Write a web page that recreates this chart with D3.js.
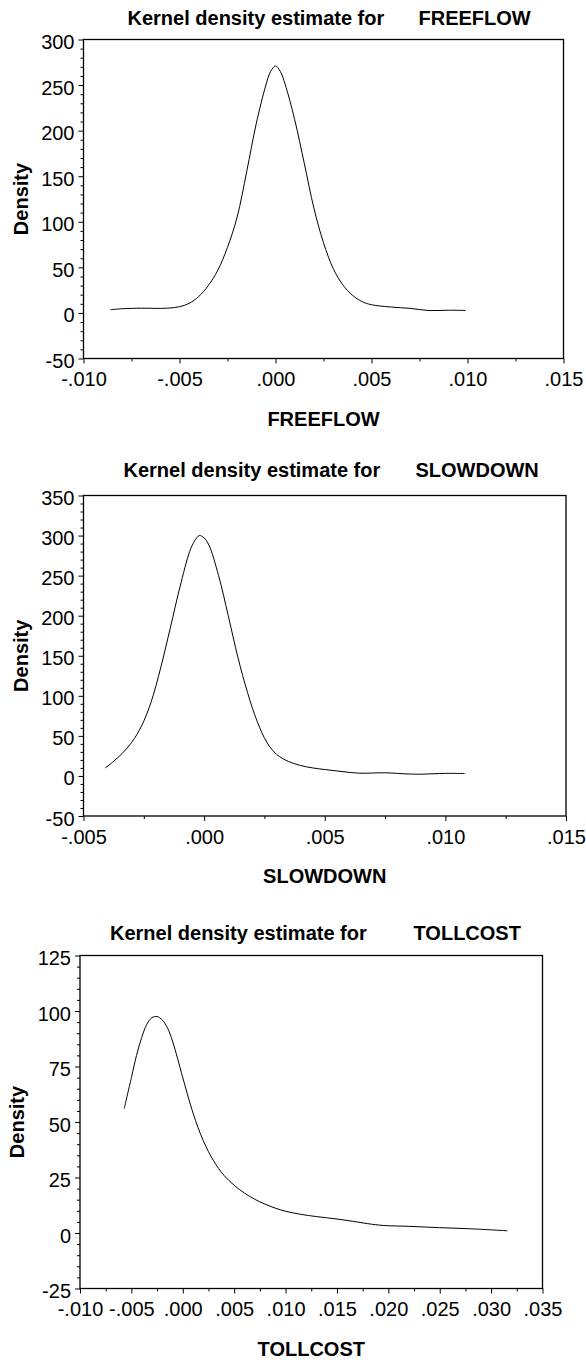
<!DOCTYPE html>
<html>
<head>
<meta charset="utf-8">
<script src="https://cdn.jsdelivr.net/npm/d3@7"></script>
<style>
  html, body { margin: 0; padding: 0; background: #fff; }
  svg { display: block; }
  text { font-family: "Liberation Sans", Arial, sans-serif; fill: #000; }
</style>
</head>
<body>
<svg id="chart" width="586" height="1360"></svg>
<script>
// ---------------- DATA ----------------
const titlePrefix = "Kernel density estimate for";
const variableNames = ["FREEFLOW", "SLOWDOWN", "TOLLCOST"];
const yAxisLabel = "Density";

// FREEFLOW kernel density
const freeflowX = [-0.0086, -0.0080, -0.0070, -0.0060, -0.0055, -0.0050, -0.0045, -0.0040, -0.0035, -0.0030,
                   -0.0025, -0.0020, -0.0015, -0.0010, -0.0005, -0.00025, 0.0000, 0.00025, 0.0005, 0.0010,
                   0.0015, 0.0020, 0.0025, 0.0030, 0.0035, 0.0040, 0.0045, 0.0050, 0.0060, 0.0070,
                   0.0080, 0.0090, 0.0099];
const freeflowY = [3.5, 4.6, 5.2, 5.0, 5.4, 6.8, 10.5, 18, 30, 47,
                   72, 105, 155, 208, 250, 265, 271, 265, 251, 212,
                   164, 115, 77, 49, 31, 19.5, 12.5, 9, 6.5, 5,
                   2.6, 3, 2.7];

// SLOWDOWN kernel density
const slowdownX = [-0.0041, -0.0038, -0.0034, -0.0030, -0.0026, -0.0022, -0.0018, -0.0014, -0.0010, -0.0006,
                   -0.0004, -0.0002, 0.0000, 0.0002, 0.0006, 0.0010, 0.0014, 0.0018, 0.0022, 0.0026,
                   0.0030, 0.0035, 0.0040, 0.0045, 0.0050, 0.0055, 0.0060, 0.0065, 0.0075, 0.0085,
                   0.0090, 0.0100, 0.0108];
const slowdownY = [10, 17, 28, 42, 62, 92, 135, 185, 236, 280,
                   293, 300, 297, 288, 250, 200, 148, 104, 68, 42,
                   27, 18, 13, 10, 8, 6.2, 4.5, 3.4, 3.9, 2.4,
                   2.2, 3.2, 3.0];

// TOLLCOST kernel density
const tollcostX = [-0.0057, -0.0050, -0.0045, -0.0040, -0.0035, -0.0030, -0.0025, -0.0020, -0.0015, -0.0010,
                   -0.0005, 0.0000, 0.0010, 0.0020, 0.0030, 0.0040, 0.0050, 0.0060, 0.0070, 0.0080,
                   0.0090, 0.0100, 0.0115, 0.0130, 0.0150, 0.0165, 0.0180, 0.0195, 0.0220, 0.0250,
                   0.0280, 0.0316];
const tollcostY = [56, 70, 80, 88, 94, 97, 97.5, 96, 92.5, 86.5,
                   78.5, 70, 54, 41.5, 32.5, 26, 21.5, 18, 15.2, 13,
                   11.2, 9.8, 8.4, 7.4, 6.3, 5.3, 4.2, 3.4, 3.0, 2.4,
                   1.9, 1.0];

// Tick values
const freeflowXTicks = [-0.010, -0.005, 0.000, 0.005, 0.010, 0.015];
const freeflowYTicks = [-50, 0, 50, 100, 150, 200, 250, 300];
const slowdownXTicks = [-0.005, 0.000, 0.005, 0.010, 0.015];
const slowdownYTicks = [-50, 0, 50, 100, 150, 200, 250, 300, 350];
const tollcostXTicks = [-0.010, -0.005, 0.000, 0.005, 0.010, 0.015, 0.020, 0.025, 0.030, 0.035];
const tollcostYTicks = [-25, 0, 25, 50, 75, 100, 125];

// ---------------- LAYOUT ----------------
const panels = [
  { name: variableNames[0], xs: freeflowX, ys: freeflowY, xt: freeflowXTicks, yt: freeflowYTicks,
    left: 83.5, right: 563.5, top: 39.5, bottom: 358.5, titleX: 127.5, nameX: 418.5, titleY: 24.5 },
  { name: variableNames[1], xs: slowdownX, ys: slowdownY, xt: slowdownXTicks, yt: slowdownYTicks,
    left: 83.5, right: 566, top: 495.5, bottom: 816, titleX: 123.5, nameX: 415.5, titleY: 477 },
  { name: variableNames[2], xs: tollcostX, ys: tollcostY, xt: tollcostXTicks, yt: tollcostYTicks,
    left: 80, right: 542.5, top: 955.5, bottom: 1288.5, titleX: 110, nameX: 413.5, titleY: 940 }
];

const svg = d3.select("#chart");
const fmtX = v => {
  const s = (Math.abs(v) < 1e-12 ? 0 : v).toFixed(3);
  return s.replace(/^(-?)0\./, "$1.");
};
const fmtY = v => String(v);

panels.forEach(p => {
  const x = d3.scaleLinear().domain([p.xt[0], p.xt[p.xt.length - 1]]).range([p.left, p.right]);
  const y = d3.scaleLinear().domain([p.yt[0], p.yt[p.yt.length - 1]]).range([p.bottom, p.top]);

  // minor ticks
  const xStep = p.xt[1] - p.xt[0];
  const xMinor = d3.range(p.xt.length - 1).map(i => p.xt[i] + xStep / 2);
  const yStep = p.yt[1] - p.yt[0];
  const yMinor = [];
  for (let i = 0; i < p.yt.length - 1; i++) for (let k = 1; k < 5; k++) yMinor.push(p.yt[i] + yStep * k / 5);

  const g = svg.append("g");

  // x axis minor
  g.append("g").attr("transform", `translate(0,${p.bottom})`)
    .call(d3.axisBottom(x).tickValues(xMinor).tickSize(3).tickFormat(""))
    .call(a => a.select(".domain").remove())
    .call(a => a.selectAll("line").attr("stroke", "#000").attr("stroke-width", 1));
  // x axis major
  g.append("g").attr("transform", `translate(0,${p.bottom})`)
    .call(d3.axisBottom(x).tickValues(p.xt).tickSize(5).tickPadding(8.5).tickFormat(fmtX))
    .call(a => a.select(".domain").remove())
    .call(a => a.selectAll("line").attr("stroke", "#000").attr("stroke-width", 1))
    .call(a => a.selectAll("text").attr("font-size", 20).attr("font-family", "Liberation Sans, Arial, sans-serif").attr("fill", "#000"));

  // y axis minor
  g.append("g").attr("transform", `translate(${p.left},0)`)
    .call(d3.axisLeft(y).tickValues(yMinor).tickSize(3).tickFormat(""))
    .call(a => a.select(".domain").remove())
    .call(a => a.selectAll("line").attr("stroke", "#000").attr("stroke-width", 1));
  // y axis major
  g.append("g").attr("transform", `translate(${p.left},0)`)
    .call(d3.axisLeft(y).tickValues(p.yt).tickSize(5).tickPadding(4).tickFormat(fmtY))
    .call(a => a.select(".domain").remove())
    .call(a => a.selectAll("line").attr("stroke", "#000").attr("stroke-width", 1))
    .call(a => a.selectAll("text").attr("font-size", 20).attr("dy", "0.45em")
      .attr("font-family", "Liberation Sans, Arial, sans-serif").attr("fill", "#000"));

  // frame
  g.append("rect")
    .attr("x", p.left).attr("y", p.top)
    .attr("width", p.right - p.left).attr("height", p.bottom - p.top)
    .attr("fill", "none").attr("stroke", "#000").attr("stroke-width", 1.3);

  // curve
  const pts = p.xs.map((v, i) => [v, p.ys[i]]);
  g.append("path")
    .datum(pts)
    .attr("fill", "none").attr("stroke", "#000").attr("stroke-width", 1)
    .attr("d", d3.line().x(d => x(d[0])).y(d => y(d[1])).curve(d3.curveCatmullRom.alpha(0.5)));

  // title
  g.append("text").attr("x", p.titleX).attr("y", p.titleY)
    .attr("font-size", 20).attr("font-weight", "bold").text(titlePrefix);
  g.append("text").attr("x", p.nameX).attr("y", p.titleY)
    .attr("font-size", 20).attr("font-weight", "bold").text(p.name);

  // x axis title
  g.append("text").attr("x", (p.left + p.right) / 2).attr("y", p.bottom + 67)
    .attr("text-anchor", "middle").attr("font-size", 20).attr("font-weight", "bold").text(p.name);

  // y axis title
  g.append("text")
    .attr("transform", `translate(${p.left - 56},${(p.top + p.bottom) / 2}) rotate(-90)`)
    .attr("text-anchor", "middle").attr("font-size", 20).attr("font-weight", "bold").text(yAxisLabel);
});
</script>
</body>
</html>
